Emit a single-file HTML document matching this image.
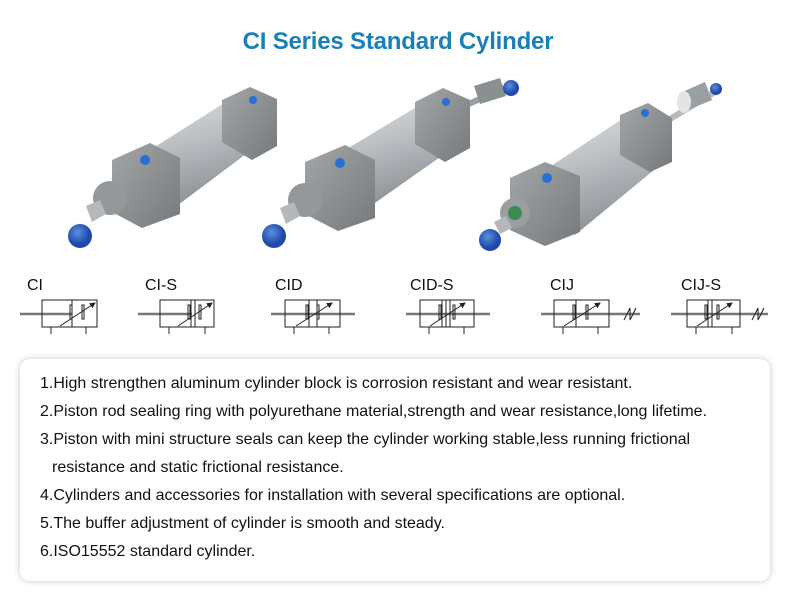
<!DOCTYPE html>
<html><head><meta charset="utf-8"><style>
html,body{margin:0;padding:0;background:#fff;width:796px;height:594px;overflow:hidden;font-family:"Liberation Sans",sans-serif}
.t{position:absolute;left:0;width:796px;top:28px;text-align:center;color:#1a80b8;font-weight:bold;font-size:24px;letter-spacing:-0.2px}
.box{position:absolute;left:20px;top:359px;width:750px;height:222px;border-radius:10px;background:#fff;box-shadow:0 0 7px rgba(0,0,0,0.22)}
.box p{margin:0;position:absolute;left:20px;font-size:16px;color:#111;white-space:nowrap}
</style></head><body>
<div class="t">CI Series Standard Cylinder</div>
<svg width="796" height="350" style="position:absolute;left:0;top:0">
<defs>
<linearGradient id="bar" x1="0" y1="0" x2="0.3" y2="1"><stop offset="0" stop-color="#dfe2e4"/><stop offset="0.5" stop-color="#b7bcc0"/><stop offset="1" stop-color="#8d9296"/></linearGradient>
<linearGradient id="cap" x1="0" y1="0" x2="1" y2="1"><stop offset="0" stop-color="#a3a7a8"/><stop offset="1" stop-color="#75797b"/></linearGradient>
<radialGradient id="blue" cx="0.4" cy="0.35"><stop offset="0" stop-color="#5d8fe0"/><stop offset="1" stop-color="#1d49a8"/></radialGradient>
<marker id="ah" markerWidth="6" markerHeight="6" refX="5" refY="3" orient="auto"><path d="M0,0 L6,3 L0,6 z" fill="#222"/></marker>
</defs>
<!-- cylinder 1 -->
<polygon points="150,150 232,98 262,142 178,205" fill="url(#bar)"/>
<polygon points="222,100 250,87 277,99 277,146 252,160 222,142" fill="url(#cap)"/>
<circle cx="253" cy="100" r="4" fill="#2a6fd8"/>
<polygon points="112,160 150,143 180,158 180,214 142,228 112,212" fill="url(#cap)"/>
<circle cx="145" cy="160" r="5" fill="#2a6fd8"/>
<circle cx="110" cy="198" r="17" fill="#94989a"/>
<polygon points="86,206 100,200 106,214 92,222" fill="#b5b8bb"/>
<ellipse cx="80" cy="236" rx="12" ry="12" fill="url(#blue)"/>
<!-- cylinder 2 -->
<line x1="455" y1="110" x2="505" y2="88" stroke="#9aa0a4" stroke-width="6"/>
<polygon points="474,86 500,78 506,96 480,104" fill="#8a8f92"/>
<ellipse cx="511" cy="88" rx="8" ry="8" fill="url(#blue)"/>
<polygon points="345,150 428,100 456,146 372,205" fill="url(#bar)"/>
<polygon points="415,102 443,88 470,100 470,148 445,162 415,144" fill="url(#cap)"/>
<circle cx="446" cy="102" r="4" fill="#2a6fd8"/>
<polygon points="305,162 345,145 375,160 375,218 338,231 305,214" fill="url(#cap)"/>
<circle cx="340" cy="163" r="5" fill="#2a6fd8"/>
<circle cx="305" cy="200" r="17" fill="#94989a"/>
<polygon points="280,208 294,202 300,216 286,224" fill="#b5b8bb"/>
<ellipse cx="274" cy="236" rx="12" ry="12" fill="url(#blue)"/>
<!-- cylinder 3 -->
<line x1="665" y1="122" x2="715" y2="92" stroke="#b8bcc0" stroke-width="6"/>
<polygon points="680,93 705,82 712,100 688,110" fill="#9a9fa1"/>
<ellipse cx="684" cy="102" rx="7" ry="11" fill="#e4e4e2"/>
<ellipse cx="716" cy="89" rx="6" ry="6" fill="url(#blue)"/>
<polygon points="545,170 628,115 660,165 575,235" fill="url(#bar)"/>
<polygon points="620,115 648,103 672,118 672,162 650,172 620,155" fill="url(#cap)"/>
<circle cx="645" cy="113" r="4" fill="#2a6fd8"/>
<polygon points="510,178 545,162 580,176 580,232 545,246 510,230" fill="url(#cap)"/>
<circle cx="547" cy="178" r="5" fill="#2a6fd8"/>
<circle cx="515" cy="213" r="15" fill="#9a9ea0"/>
<circle cx="515" cy="213" r="7" fill="#3e8a55"/>
<polygon points="494,222 506,216 512,228 500,234" fill="#b5b8bb"/>
<ellipse cx="490" cy="240" rx="11" ry="11" fill="url(#blue)"/>
<!-- symbols -->
<g font-size="16" fill="#111" font-family="Liberation Sans, sans-serif">
<text x="27" y="290">CI</text><text x="145" y="290">CI-S</text><text x="275" y="290">CID</text>
<text x="410" y="290">CID-S</text><text x="550" y="290">CIJ</text><text x="681" y="290">CIJ-S</text>
</g>
<g stroke="#222" stroke-width="1" fill="none">
<!-- CI -->
<line x1="20" y1="314" x2="72" y2="314" stroke="#777" stroke-width="2.5"/>
<rect x="42" y="300" width="55" height="27"/><line x1="72" y1="300" x2="72" y2="327"/>
<rect x="70" y="305" width="2" height="14"/><rect x="82" y="305" width="2" height="14"/>
<line x1="60" y1="326" x2="95" y2="303" marker-end="url(#ah)"/><line x1="51" y1="327" x2="51" y2="334"/><line x1="86" y1="327" x2="86" y2="334"/>
<!-- CI-S -->
<line x1="138" y1="314" x2="192" y2="314" stroke="#777" stroke-width="2.5"/>
<rect x="160" y="300" width="54" height="27"/><line x1="191" y1="300" x2="191" y2="327"/><line x1="195" y1="300" x2="195" y2="327"/>
<rect x="188" y="305" width="2" height="14"/><rect x="199" y="305" width="2" height="14"/>
<line x1="178" y1="326" x2="212" y2="303" marker-end="url(#ah)"/><line x1="169" y1="327" x2="169" y2="334"/><line x1="205" y1="327" x2="205" y2="334"/>
<!-- CID -->
<line x1="271" y1="314" x2="355" y2="314" stroke="#777" stroke-width="2.5"/>
<rect x="285" y="300" width="55" height="27"/><line x1="309" y1="300" x2="309" y2="327"/><line x1="317" y1="300" x2="317" y2="327"/>
<rect x="306" y="305" width="2" height="14"/><rect x="317" y="305" width="2" height="14"/>
<line x1="296" y1="326" x2="332" y2="303" marker-end="url(#ah)"/><line x1="294" y1="327" x2="294" y2="334"/><line x1="329" y1="327" x2="329" y2="334"/>
<!-- CID-S -->
<line x1="406" y1="314" x2="490" y2="314" stroke="#777" stroke-width="2.5"/>
<rect x="420" y="300" width="54" height="27"/><line x1="442" y1="300" x2="442" y2="327"/><line x1="446" y1="300" x2="446" y2="327"/><line x1="450" y1="300" x2="450" y2="327"/>
<rect x="439" y="305" width="2" height="14"/><rect x="453" y="305" width="2" height="14"/>
<line x1="430" y1="326" x2="465" y2="303" marker-end="url(#ah)"/><line x1="429" y1="327" x2="429" y2="334"/><line x1="464" y1="327" x2="464" y2="334"/>
<!-- CIJ -->
<line x1="541" y1="314" x2="640" y2="314" stroke="#777" stroke-width="2.5"/>
<rect x="554" y="300" width="55" height="27"/><line x1="576" y1="300" x2="576" y2="327"/>
<rect x="573" y="305" width="2" height="14"/><rect x="586" y="305" width="2" height="14"/>
<line x1="564" y1="326" x2="600" y2="303" marker-end="url(#ah)"/><line x1="563" y1="327" x2="563" y2="334"/><line x1="598" y1="327" x2="598" y2="334"/>
<polyline points="624,320 630,308 630,320 636,308"/>
<!-- CIJ-S -->
<line x1="671" y1="314" x2="768" y2="314" stroke="#777" stroke-width="2.5"/>
<rect x="687" y="300" width="53" height="27"/><line x1="708" y1="300" x2="708" y2="327"/><line x1="712" y1="300" x2="712" y2="327"/>
<rect x="705" y="305" width="2" height="14"/><rect x="717" y="305" width="2" height="14"/>
<line x1="697" y1="326" x2="732" y2="303" marker-end="url(#ah)"/><line x1="696" y1="327" x2="696" y2="334"/><line x1="732" y1="327" x2="732" y2="334"/>
<polyline points="752,320 758,308 758,320 764,308"/>
</g>
</svg>
<div class="box">
<p style="top:16px">1.High strengthen aluminum cylinder block is corrosion resistant and wear resistant.</p>
<p style="top:44px">2.Piston rod sealing ring with polyurethane material,strength and wear resistance,long lifetime.</p>
<p style="top:72px">3.Piston with mini structure seals can keep the cylinder working stable,less running frictional</p>
<p style="top:100px;left:32px">resistance and static frictional resistance.</p>
<p style="top:128px">4.Cylinders and accessories for installation with several specifications are optional.</p>
<p style="top:156px">5.The buffer adjustment of cylinder is smooth and steady.</p>
<p style="top:184px">6.ISO15552 standard cylinder.</p>
</div>
</body></html>
